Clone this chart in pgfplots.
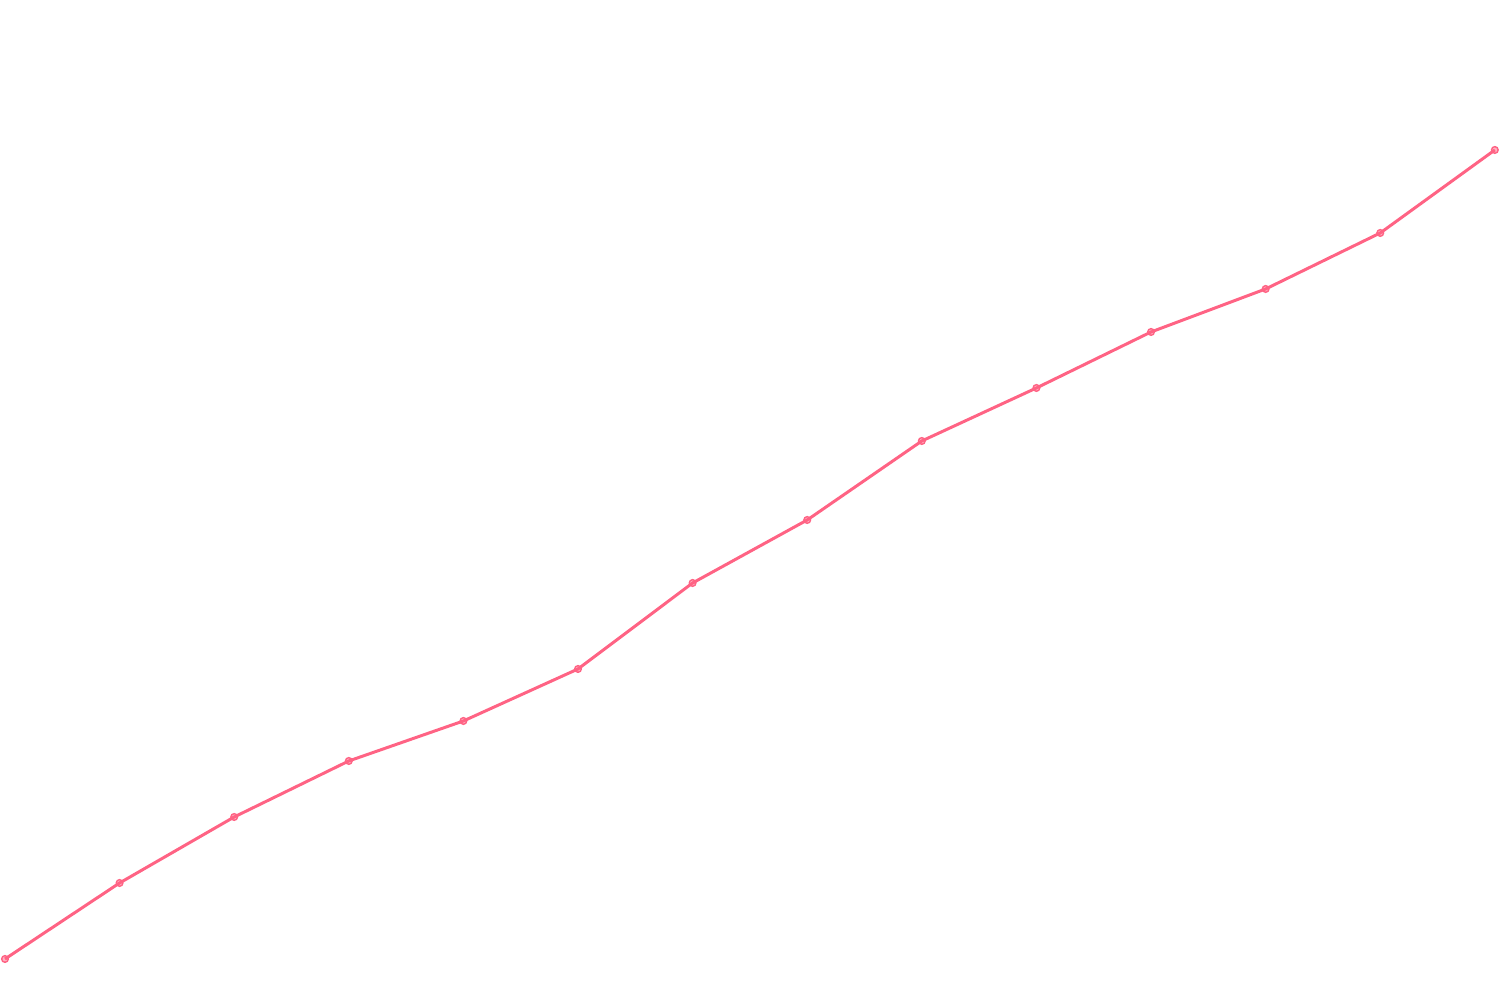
\documentclass[border=0pt]{standalone}
\usepackage{pgfplots}
\pgfplotsset{compat=1.18}
\definecolor{linepink}{RGB}{255,99,132}
\begin{document}
\begin{tikzpicture}
\begin{axis}[
    scale only axis,
    width=15cm,
    height=10cm,
    xmin=-0.0435, xmax=13.045,
    ymin=0, ymax=1000,
    ticks=none,
    axis line style={draw=none},
]
\addplot[
    color=linepink,
    line width=0.85pt,
    mark=*,
    mark size=0.95pt,
    mark options={fill=linepink, fill opacity=0.5, draw=linepink, line width=0.4pt}
] coordinates {
(0,41) (1,117) (2,183) (3,239) (4,279) (5,331) (6,417)
(7,480) (8,559) (9,612) (10,668) (11,711) (12,767) (13,850)
};
\end{axis}
\end{tikzpicture}
\end{document}
